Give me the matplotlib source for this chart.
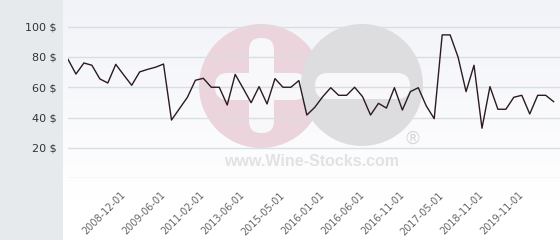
import numpy as np
import matplotlib
matplotlib.use("Agg")
import matplotlib.pyplot as plt
from matplotlib.patches import Circle, Rectangle, FancyBboxPatch

prices = [78.4, 68.7, 76.0, 74.5, 65.5, 62.8, 75.1, 68.1, 61.3, 70.1,
          71.8, 73.2, 75.3, 38.4, 45.9, 53.4, 64.6, 65.9, 60.0, 60.0,
          48.3, 68.5, 59.3, 49.8, 60.4, 49.0, 65.7, 60.0, 60.0, 64.4,
          41.7, 46.8, 53.8, 59.7, 54.7, 54.7, 60.0, 53.8, 41.7, 49.4,
          46.3, 59.7, 45.0, 57.1, 59.7, 47.7, 39.3, 94.5, 94.5, 79.8,
          57.1, 74.5, 33.0, 60.4, 45.5, 45.5, 53.4, 54.7, 42.4, 54.7,
          54.7, 50.5]
tick_idx = [7, 12, 17, 22, 27, 32, 37, 42, 47, 52, 57]
tick_labels = ["2008-12-01", "2009-06-01", "2011-02-01", "2013-06-01",
               "2015-05-01", "2016-01-01", "2016-06-01", "2016-11-01",
               "2017-05-01", "2018-11-01", "2019-11-01"]
y_ticks = [20, 40, 60, 80, 100]

W, H = 560, 240
fig = plt.figure(figsize=(W / 100, H / 100), dpi=100)
fig.patch.set_facecolor("white")

# background layer in pixel coordinates: side panel, gradient, watermark
bg = fig.add_axes([0, 0, 1, 1], zorder=0)
bg.set_xlim(0, W)
bg.set_ylim(H, 0)
bg.axis("off")
bg.add_patch(Rectangle((0, 0), 63, H, color="#e6eaed", lw=0))
grad = np.linspace(0, 1, 200)[:, None]
cmap = matplotlib.colors.LinearSegmentedColormap.from_list("g", ["#f2f3f8", "#ffffff"])
bg.imshow(grad, cmap=cmap, extent=(63, W, 200, 0), aspect="auto", zorder=0)

white = "#f8f8fa"
bg.add_patch(Circle((261, 86), 62, color="#ecd4dc", lw=0, zorder=1))
bg.add_patch(FancyBboxPatch((249, 38), 25, 95, boxstyle="round,pad=0,rounding_size=12",
                            color=white, lw=0, zorder=2))
bg.add_patch(FancyBboxPatch((215, 73), 92, 27, boxstyle="round,pad=0,rounding_size=13",
                            color=white, lw=0, zorder=2))
bg.add_patch(Circle((362, 85), 61, color="#dddddf", lw=0, zorder=3))
bg.add_patch(FancyBboxPatch((315, 73), 95, 26, boxstyle="round,pad=0,rounding_size=13",
                            color=white, lw=0, zorder=4))
bg.text(412, 139, "®", fontsize=13, color="#d8d8da", ha="center", va="center",
        family="DejaVu Sans", zorder=5)
bg.text(312, 161, "www.Wine-Stocks.com", fontsize=11.5, fontweight="bold",
        family="Liberation Sans", color="#e2e2e4", ha="center", va="center", zorder=5)

# main chart
ax = fig.add_axes([68 / W, (H - 178.3) / H, (W - 68) / W, 178.3 / H], zorder=1)
ax.patch.set_alpha(0)
x = np.arange(len(prices))
ax.plot(x, prices, color="#2b1a22", lw=1.0, zorder=3)

ax.set_xlim(0, 61.8)
ax.set_ylim(0, 117.5)
for v in [0] + y_ticks:
    ax.axhline(v, color="#dcdde0", lw=1, zorder=1)

ax.set_yticks(y_ticks)
ax.set_yticklabels([f"{v} $" for v in y_ticks], fontsize=8, color="#333333",
                   family="DejaVu Sans")
ax.tick_params(axis="y", length=0, pad=8)
ax.set_xticks(tick_idx)
ax.set_xticklabels(tick_labels, rotation=45, ha="right", va="center",
                   rotation_mode="anchor", fontsize=7, color="#666666")
ax.tick_params(axis="x", length=0, pad=11)
for s in ax.spines.values():
    s.set_visible(False)

fig.savefig("out.png", dpi=100)
